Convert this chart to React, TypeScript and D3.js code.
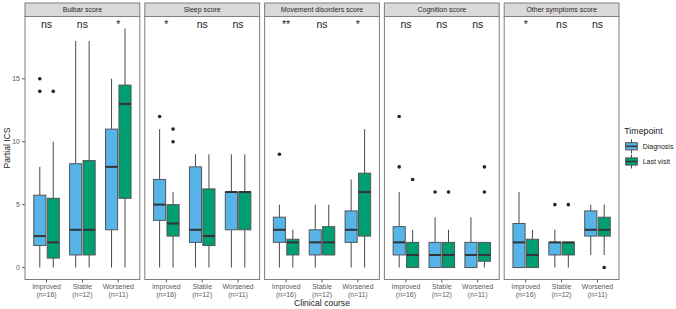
import React from "react";
import * as d3 from "d3";

// ---------- data ----------
const panels = ["Bulbar score", "Sleep score", "Movement disorders score", "Cognition score", "Other symptoms score"];
const courses = ["Improved", "Stable", "Worsened"];
const courseN = ["(n=16)", "(n=12)", "(n=11)"];
const timepoints = ["Diagnosis", "Last visit"];
const yTicks = [0, 5, 10, 15];

// significance label per panel, per course
const significance = [
  ["ns", "ns", "*"],
  ["*", "ns", "ns"],
  ["**", "ns", "*"],
  ["ns", "ns", "ns"],
  ["*", "ns", "ns"],
];

// [lower whisker, Q1, median, Q3, upper whisker] per panel, per course
const diagnosisStats = [
  [[0, 1.75, 2.5, 5.75, 8], [0, 1, 3, 8.25, 18], [0, 3, 8, 11, 15]],
  [[0, 3.75, 5, 7, 11], [0, 2, 3, 8, 9], [0, 3, 6, 6, 9]],
  [[0, 2, 3, 4, 5], [0, 1, 2, 3, 5], [0, 2, 3, 4.5, 7]],
  [[0, 1, 2, 3.25, 6], [0, 0, 1, 2, 4], [0, 0, 1, 2, 4]],
  [[0, 0, 2, 3.5, 6], [0, 1, 2, 2, 3], [1, 2.5, 3, 4.5, 5]],
];
const lastVisitStats = [
  [[0, 0.75, 2, 5.5, 10], [0, 1, 3, 8.5, 18], [0, 5.5, 13, 14.5, 19]],
  [[0, 2.5, 3.5, 5, 6], [0, 1.75, 2.5, 6.25, 9], [0, 3, 6, 6, 9]],
  [[0, 1, 2, 2.25, 3], [1, 1, 2, 3.25, 5], [0, 2.5, 6, 7.5, 11]],
  [[0, 0, 1, 2, 3], [0, 0, 1, 2, 3], [0, 0.5, 1, 2, 2]],
  [[0, 0, 1, 2.25, 3], [0, 1, 2, 2, 2], [1, 2.5, 3, 4, 5]],
];
const diagnosisOutliers = [
  [[15, 14], [], []],
  [[12], [], []],
  [[9], [], []],
  [[12, 8], [6], []],
  [[], [5], []],
];
const lastVisitOutliers = [
  [[14], [], []],
  [[11, 10], [], []],
  [[], [], []],
  [[7], [6], [8, 6]],
  [[], [5], [0]],
];

const colors = ["#56B4E9", "#009E73"];

// ---------- layout ----------
const W = 676;
const H = 309;
const panelLeft0 = 25;
const panelStep = 119.8;
const panelW = 114.8;
const panelTop = 16.5;
const panelBottom = 279.5;
const stripTop = 3;
const FONT = "Liberation Sans, Arial, Helvetica, sans-serif";

const y = d3.scaleLinear().domain([-0.95, 19.95]).range([panelBottom, panelTop]);

function Box({ stats, outliers, cx, bw, fill }: any) {
  const [lo, q1, med, q3, hi] = stats;
  return (
    <g>
      <line x1={cx} x2={cx} y1={y(q3)} y2={y(hi)} stroke="#333" strokeWidth={0.9} />
      <line x1={cx} x2={cx} y1={y(q1)} y2={y(lo)} stroke="#333" strokeWidth={0.9} />
      <rect x={cx - bw / 2} y={y(q3)} width={bw} height={Math.max(0, y(q1) - y(q3))} fill={fill} stroke="#555" strokeWidth={1} />
      <line x1={cx - bw / 2} x2={cx + bw / 2} y1={y(med)} y2={y(med)} stroke="#333" strokeWidth={2} />
      {outliers.map((v: number, i: number) => (
        <circle key={i} cx={cx} cy={y(v)} r={1.8} fill="#222" />
      ))}
    </g>
  );
}

export default function App() {
  return (
    <svg width={W} height={H} style={{ position: "absolute", left: 0, top: 0, background: "#fff" }} fontFamily={FONT}>
      <rect x={0} y={0} width={W} height={H} fill="#fff" />
      {/* y axis */}
      {yTicks.map((t) => (
        <g key={t}>
          <line x1={22} x2={panelLeft0} y1={y(t)} y2={y(t)} stroke="#333" strokeWidth={0.8} />
          <text x={20} y={y(t)} dy="0.35em" textAnchor="end" fontSize={7} fill="#5a5a5a">
            {t}
          </text>
        </g>
      ))}
      <text transform={`translate(9.5,${(panelTop + panelBottom) / 2}) rotate(-90)`} textAnchor="middle" fontSize={8.6} fill="#222">
        Partial ICS
      </text>

      {panels.map((p, pi) => {
        const x0 = panelLeft0 + pi * panelStep;
        const x = d3.scalePoint<string>().domain(courses).range([x0, x0 + panelW]).padding(0.6);
        const u = x.step();
        const bw = u * 0.375 * 0.9;
        return (
          <g key={p}>
            <rect x={x0} y={panelTop} width={panelW} height={panelBottom - panelTop} fill="#fff" stroke="#7f7f7f" strokeWidth={1} />
            <rect x={x0} y={stripTop} width={panelW} height={panelTop - stripTop} fill="#d9d9d9" stroke="#7f7f7f" strokeWidth={1} />
            <text x={x0 + panelW / 2} y={(stripTop + panelTop) / 2} dy="0.35em" textAnchor="middle" fontSize={7} fill="#2a2a2a">
              {p}
            </text>
            {courses.map((c, ci) => {
              const cx = x(c) as number;
              return (
                <g key={c}>
                  <Box stats={diagnosisStats[pi][ci]} outliers={diagnosisOutliers[pi][ci]} cx={cx - u * 0.1875} bw={bw} fill={colors[0]} />
                  <Box stats={lastVisitStats[pi][ci]} outliers={lastVisitOutliers[pi][ci]} cx={cx + u * 0.1875} bw={bw} fill={colors[1]} />
                  <text x={cx} y={28.3} textAnchor="middle" fontSize={10.5} fill="#222">
                    {significance[pi][ci]}
                  </text>
                  <line x1={cx} x2={cx} y1={panelBottom} y2={panelBottom + 3} stroke="#333" strokeWidth={0.8} />
                  <text x={cx} y={289.2} textAnchor="middle" fontSize={6.9} fill="#5a5a5a">
                    {c}
                  </text>
                  <text x={cx} y={297} textAnchor="middle" fontSize={6.9} fill="#5a5a5a">
                    {courseN[ci]}
                  </text>
                </g>
              );
            })}
          </g>
        );
      })}

      <text x={322} y={306} textAnchor="middle" fontSize={8.6} fill="#222">
        Clinical course
      </text>

      {/* legend */}
      <text x={624.3} y={134} fontSize={8.8} fill="#222">
        Timepoint
      </text>
      {timepoints.map((t, i) => {
        const cy = 146.3 + i * 15.2;
        const kx = 631.5;
        return (
          <g key={t}>
            <line x1={kx} x2={kx} y1={cy - 7} y2={cy + 7} stroke="#333" strokeWidth={0.9} />
            <rect x={kx - 5.8} y={cy - 3.6} width={11.6} height={7.2} fill={colors[i]} stroke="#555" strokeWidth={1} />
            <line x1={kx - 5.8} x2={kx + 5.8} y1={cy} y2={cy} stroke="#333" strokeWidth={1.5} />
            <text x={642.7} y={cy} dy="0.35em" fontSize={7} fill="#222">
              {t}
            </text>
          </g>
        );
      })}
    </svg>
  );
}
